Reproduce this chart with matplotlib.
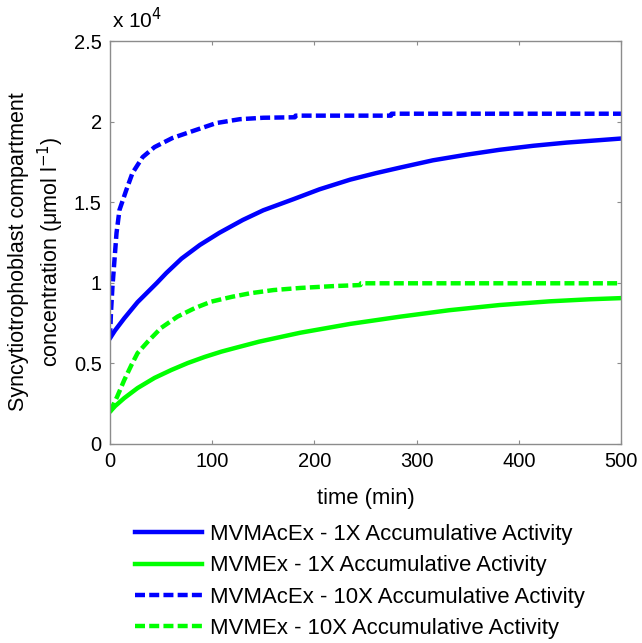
import matplotlib
matplotlib.use("Agg")
import matplotlib.pyplot as plt
from matplotlib.ticker import FuncFormatter, MultipleLocator

plt.rcParams['font.family'] = ['Liberation Sans', 'DejaVu Sans']

# MVMAcEx - 1X
t_ac1 = [0, 5, 14, 27, 46, 55, 70, 88, 107, 130, 150, 180, 205, 235, 260, 284, 316, 349, 381, 414, 447, 479, 500]
c_ac1 = [6560, 7050, 7800, 8800, 10000, 10600, 11500, 12350, 13100, 13900, 14500, 15200, 15800, 16400, 16800,
         17150, 17600, 17950, 18250, 18500, 18700, 18850, 18950]
# MVMEx - 1X
t_m1 = [0, 5, 14, 27, 43.6, 60, 76, 92.6, 109, 122, 146, 186, 235, 284, 332, 381, 430, 470, 500]
c_m1 = [2000, 2350, 2850, 3470, 4100, 4590, 5020, 5400, 5730, 5950, 6350, 6900, 7450, 7900, 8300, 8620,
        8850, 8980, 9050]
# MVMAcEx - 10X
t_ac10 = [0, 1, 2.4, 6.4, 9.3, 16, 22, 32, 43.6, 61, 78, 104, 127, 150, 181, 181.5, 275, 275.5, 500]
c_ac10 = [6560, 8200, 9740, 13090, 14520, 15760, 16810, 17800, 18420, 18980, 19350, 19910, 20150, 20240,
          20270, 20370, 20370, 20490, 20490]
# MVMEx - 10X
t_m10 = [0, 7, 14, 21, 27, 37, 50, 66, 83, 99, 120, 137, 160, 186, 220, 245, 245.5, 500]
c_m10 = [2000, 2930, 3970, 4900, 5640, 6350, 7200, 7900, 8430, 8830, 9140, 9350, 9550, 9680, 9800, 9860,
         9970, 9970]

labels = ['MVMAcEx - 1X Accumulative Activity',
          'MVMEx - 1X Accumulative Activity',
          'MVMAcEx - 10X Accumulative Activity',
          'MVMEx - 10X Accumulative Activity']

fig = plt.figure(figsize=(6.42, 6.43), dpi=100)
ax = fig.add_axes([0.1713, 0.3095, 0.796, 0.6267])

blue = (0, 0, 1)
green = (0, 1, 0)
lw = 3.2
l1, = ax.plot(t_ac1, c_ac1, color=blue, lw=lw, label=labels[0])
l2, = ax.plot(t_m1, c_m1, color=green, lw=lw, label=labels[1])
l3, = ax.plot(t_ac10, c_ac10, color=blue, lw=lw, label=labels[2])
l4, = ax.plot(t_m10, c_m10, color=green, lw=lw, label=labels[3])
for l in (l3, l4):
    l.set_dashes([2.25, 0.95])

ax.set_xlim(0, 500)
ax.set_ylim(0, 25000)
ax.xaxis.set_major_locator(MultipleLocator(100))
ax.yaxis.set_major_locator(MultipleLocator(5000))
ax.yaxis.set_major_formatter(FuncFormatter(lambda v, p: f'{v/1e4:g}'))

axcol = (0.55, 0.55, 0.55)
for s in ax.spines.values():
    s.set_color(axcol)
    s.set_linewidth(1.0)
ax.tick_params(direction='in', length=3, width=0.8, color=axcol, labelsize=14.5,
               top=True, right=True, labelcolor='black')
ax.tick_params(axis='x', pad=5.5)
ax.tick_params(axis='y', pad=6.0)

ax.set_xlabel('time (min)', fontsize=15.8)
ax.xaxis.set_label_coords(0.5, -0.109)
ax.set_ylabel('Syncytiotrophoblast compartment\nconcentration (\u03bcmol l$^{-1}$)', fontsize=15.5,
              linespacing=1.28)
ax.yaxis.set_label_coords(-0.087, 0.477)

fig.text(112 / 642, 1 - 28 / 643, 'x 10$^{4}$', fontsize=15, ha='left', va='baseline')

fig.legend(handles=[l1, l2, l3, l4], labels=labels, loc='upper left',
           bbox_to_anchor=(0.2103, 0.185), frameon=False, fontsize=15.9,
           handlelength=3.03, handletextpad=0.36, labelspacing=0.47, borderaxespad=0, borderpad=0)

fig.savefig('out.png', dpi=100)
